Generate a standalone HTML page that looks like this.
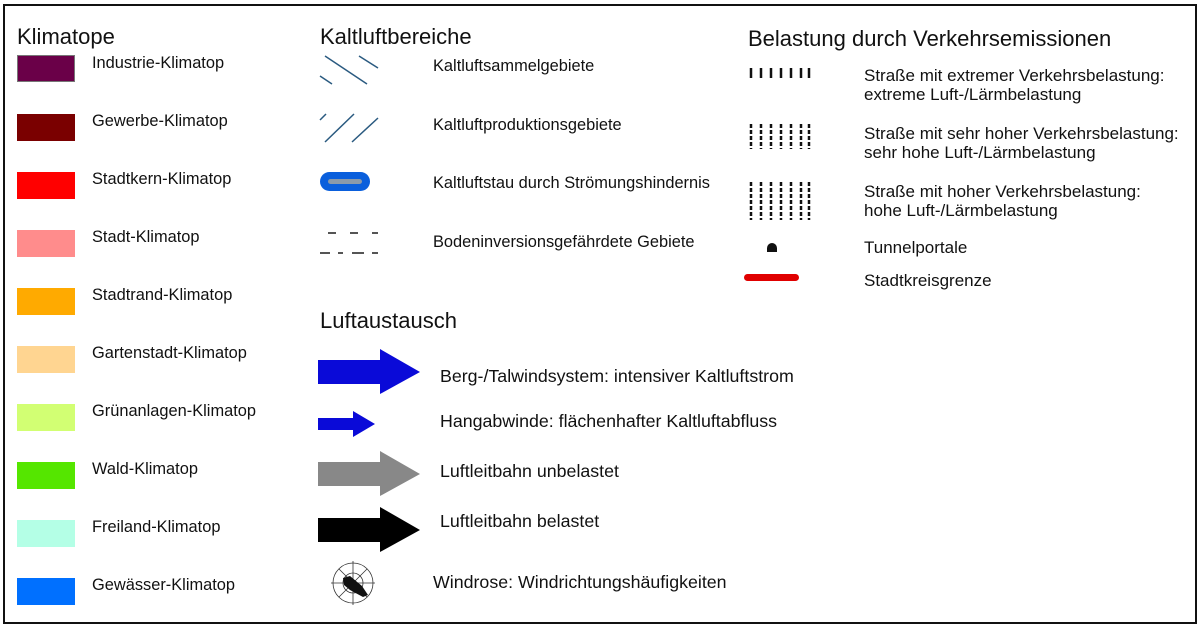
<!DOCTYPE html>
<html><head><meta charset="utf-8"><style>
body{margin:0;width:1200px;height:627px;background:#fff;position:relative;overflow:hidden;font-family:"Liberation Sans",Arial,sans-serif;}
.frame{position:absolute;left:3px;top:4px;width:1190px;height:616px;border:2px solid #111;}
.t{position:absolute;font-size:16.4px;color:#111;white-space:nowrap;line-height:19px;}
.r{font-size:17px;}
.a{font-size:17.8px;}
.h{position:absolute;font-size:22px;color:#111;white-space:nowrap;}
.sw{position:absolute;left:17px;width:58px;height:27px;}
</style></head><body>
<div class="frame"></div>
<div class="h" style="left:17px;top:24px">Klimatope</div>
<div class="h" style="left:320px;top:24px">Kaltluftbereiche</div>
<div class="h" style="left:748px;top:26px">Belastung durch Verkehrsemissionen</div>
<div class="h" style="left:320px;top:308px">Luftaustausch</div>

<div class="sw" style="top:55px;background:#6a0048;border:1px solid #777;width:56px;height:25px"></div>
<div class="sw" style="top:114px;background:#7a0000"></div>
<div class="sw" style="top:172px;background:#ff0000"></div>
<div class="sw" style="top:230px;background:#ff8c8c"></div>
<div class="sw" style="top:288px;background:#ffaa00"></div>
<div class="sw" style="top:346px;background:#ffd591"></div>
<div class="sw" style="top:404px;background:#d2ff73"></div>
<div class="sw" style="top:462px;background:#55e600"></div>
<div class="sw" style="top:520px;background:#b4ffe6"></div>
<div class="sw" style="top:578px;background:#0070ff"></div>

<div class="t" style="left:92px;top:54px">Industrie-Klimatop</div>
<div class="t" style="left:92px;top:112px">Gewerbe-Klimatop</div>
<div class="t" style="left:92px;top:170px">Stadtkern-Klimatop</div>
<div class="t" style="left:92px;top:228px">Stadt-Klimatop</div>
<div class="t" style="left:92px;top:286px">Stadtrand-Klimatop</div>
<div class="t" style="left:92px;top:344px">Gartenstadt-Klimatop</div>
<div class="t" style="left:92px;top:402px">Grünanlagen-Klimatop</div>
<div class="t" style="left:92px;top:460px">Wald-Klimatop</div>
<div class="t" style="left:92px;top:518px">Freiland-Klimatop</div>
<div class="t" style="left:92px;top:576px">Gewässer-Klimatop</div>

<svg width="1200" height="627" style="position:absolute;left:0;top:0">
 <g stroke="#2a5a80" stroke-width="1.5">
  <line x1="325" y1="56" x2="367" y2="84"/><line x1="359" y1="56" x2="378" y2="68"/><line x1="320" y1="76" x2="332" y2="84"/>
  <line x1="320" y1="120" x2="326" y2="114"/><line x1="325" y1="142" x2="354" y2="114"/><line x1="352" y1="142" x2="378" y2="118"/>
 </g>
 <rect x="320" y="172" width="50" height="19" rx="9.5" fill="#0a5fdc"/>
 <rect x="328" y="179" width="34" height="5" rx="2.5" fill="#8a9aaa"/>
 <g stroke="#555" stroke-width="2">
  <line x1="328" y1="233" x2="336" y2="233"/><line x1="350" y1="233" x2="358" y2="233"/><line x1="372" y1="233" x2="378" y2="233"/>
  <line x1="320" y1="253" x2="330" y2="253"/><line x1="338" y1="253" x2="343" y2="253"/><line x1="352" y1="253" x2="364" y2="253"/><line x1="372" y1="253" x2="378" y2="253"/>
 </g>
 <polygon points="318,360 380,360 380,349 420,372 380,394 380,384 318,384" fill="#0a0ad8"/>
 <polygon points="318,418 353,418 353,411 375,424 353,437 353,430 318,430" fill="#0a0ad8"/>
 <polygon points="318,462 380,462 380,451 420,474 380,496 380,486 318,486" fill="#888"/>
 <polygon points="318,518 380,518 380,507 420,530 380,552 380,542 318,542" fill="#000"/>
 <g fill="none" stroke="#333" stroke-width="0.8">
  <circle cx="353" cy="583" r="20"/><circle cx="353" cy="583" r="10"/>
  <line x1="353" y1="561" x2="353" y2="605"/><line x1="331" y1="583" x2="375" y2="583"/>
  <line x1="339" y1="569" x2="367" y2="597"/><line x1="367" y1="569" x2="339" y2="597"/>
 </g>
 <polygon points="343,578 350,576 362,586 368,595 363,597 350,590 344,585" fill="#111"/>
 <path d="M767,252 v-4 a5,5 0 0 1 10,0 v4z" fill="#111"/>
 <rect x="744" y="274" width="55" height="7" rx="3.5" fill="#e00000"/>
 <g stroke="#111" stroke-width="2.5">
  <path d="M751,68v10M761,68v10M771,68v10M781,68v10M791,68v10M801,68v10M809,68v10"/>
 </g>
 <g stroke="#111" stroke-width="2.5" stroke-dasharray="4,2">
  <path d="M751,124v25M761,124v25M771,124v25M781,124v25M791,124v25M801,124v25M809,124v25"/>
  <path d="M751,182v38M761,182v38M771,182v38M781,182v38M791,182v38M801,182v38M809,182v38"/>
 </g>
</svg>

<div class="t" style="left:433px;top:57px">Kaltluftsammelgebiete</div>
<div class="t" style="left:433px;top:116px">Kaltluftproduktionsgebiete</div>
<div class="t" style="left:433px;top:174px">Kaltluftstau durch Strömungshindernis</div>
<div class="t" style="left:433px;top:233px">Bodeninversionsgefährdete Gebiete</div>

<div class="t a" style="left:440px;top:367px">Berg-/Talwindsystem: intensiver Kaltluftstrom</div>
<div class="t a" style="left:440px;top:412px">Hangabwinde: flächenhafter Kaltluftabfluss</div>
<div class="t a" style="left:440px;top:462px">Luftleitbahn unbelastet</div>
<div class="t a" style="left:440px;top:512px">Luftleitbahn belastet</div>
<div class="t a" style="left:433px;top:573px">Windrose: Windrichtungshäufigkeiten</div>

<div class="t r" style="left:864px;top:66px">Straße mit extremer Verkehrsbelastung:<br>extreme Luft-/Lärmbelastung</div>
<div class="t r" style="left:864px;top:124px">Straße mit sehr hoher Verkehrsbelastung:<br>sehr hohe Luft-/Lärmbelastung</div>
<div class="t r" style="left:864px;top:182px">Straße mit hoher Verkehrsbelastung:<br>hohe Luft-/Lärmbelastung</div>
<div class="t r" style="left:864px;top:238px">Tunnelportale</div>
<div class="t r" style="left:864px;top:271px">Stadtkreisgrenze</div>
</body></html>
